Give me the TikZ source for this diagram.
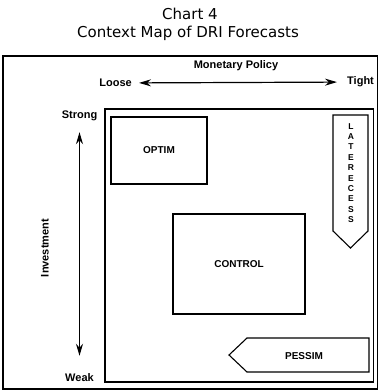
\documentclass[tikz,border=0pt]{standalone}
\usepackage{fontspec}
\setmainfont{Liberation Sans}
\newfontfamily\titlefont{DejaVu Sans}
\usetikzlibrary{arrows.meta}

\tikzset{
  lbl/.style={font=\fontsize{11}{13}\selectfont\bfseries, inner sep=1pt},
  boxlbl/.style={font=\fontsize{10}{12}\selectfont\bfseries},
  frm/.style={line width=1.1pt},
  dbl/.style={line width=1.2pt, {Stealth[length=12pt,width=7pt]}-{Stealth[length=12pt,width=7pt]}}
}

\begin{document}
\begin{tikzpicture}[x=1pt,y=-1pt]
\useasboundingbox (0,0) rectangle (379,390);

\node (T1) at (190,14) {\titlefont\fontsize{15}{17}\selectfont Chart 4};
\node (T2) at (188,33) {\titlefont\fontsize{15}{17}\selectfont Context Map of DRI Forecasts};

\draw[frm] (3,56) rectangle (377.5,389);
\draw[frm] (105,109) rectangle (373.5,382);

\node[lbl] (MP) at (236,66) {Monetary Policy};
\node[lbl,anchor=east] (LO) at (133,83) {Loose};
\node[lbl,anchor=west] (TI) at (346,82) {Tight};
\node[lbl] (ST) at (79.5,116) {Strong};
\node[lbl] (WE) at (79.5,378) {Weak};
\node[lbl,rotate=90] (IN) at (45,248) {Investment};

\draw[dbl, shorten <=6pt, shorten >=9pt] (LO) -- (TI);
\draw[dbl, shorten <=10pt, shorten >=17pt] (ST) -- (WE);

\node[draw, frm, boxlbl, minimum width=96pt, minimum height=67pt] (OP) at (159,150.5) {OPTIM};
\node[draw, frm, boxlbl, minimum width=132pt, minimum height=100pt] (CO) at (239,264) {CONTROL};

\draw[frm] (333,115) -- (368,115) -- (368,231) -- (350.5,248) -- (333,231) -- cycle;
\node[font=\fontsize{8.5}{10.4}\selectfont\bfseries, align=center] (LR) at (351,173)
  {L\\A\\T\\E\\R\\E\\C\\E\\S\\S};

\draw[frm] (369,338) -- (369,372) -- (247,372) -- (229,355) -- (247,338) -- cycle;
\node[boxlbl] (PE) at (304,356) {PESSIM};
\end{tikzpicture}
\end{document}
